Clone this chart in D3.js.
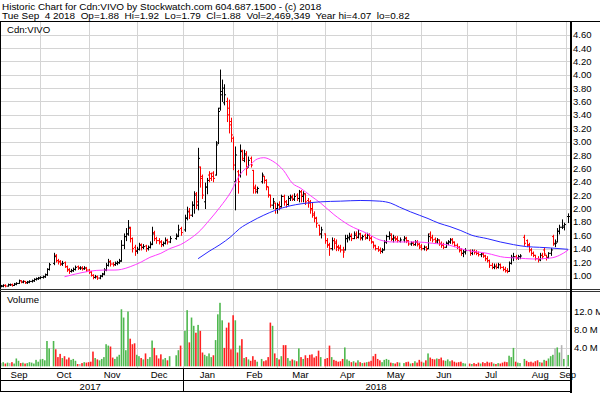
<!DOCTYPE html>
<html><head><meta charset="utf-8">
<script src="https://cdn.jsdelivr.net/npm/d3@7"></script>
<style>
html,body{margin:0;padding:0;background:#fff;}
svg{display:block;font-family:"Liberation Sans",Arial,sans-serif;}
</style></head><body>
<svg id="chart" width="600" height="393"></svg>
<script>
// ---------------- DATA ----------------
const headerLines = [
  "Historic Chart for Cdn:VIVO by Stockwatch.com 604.687.1500 - (c) 2018",
  "Tue Sep  4 2018  Op=1.88  Hi=1.92  Lo=1.79  Cl=1.88  Vol=2,469,349  Year hi=4.07  lo=0.82"
];
const symbolLabel = "Cdn:VIVO";
const volumeLabel = "Volume";
const firstDay = "2017-09-05";
const lastDay = "2018-09-04";
const holidays = ["2017-10-09","2017-12-25","2017-12-26","2018-01-01","2018-02-19",
  "2018-03-30","2018-05-21","2018-07-02","2018-08-06","2018-09-03"];

const opens = [
  .85,.84,.84,.85,.84,.86,.86,.85,.87,.88,.92,.90,.91,.89,.90,.91,.92,.94,.95,
  .96,.97,.98,1.01,1.09,1.18,1.30,1.22,1.21,1.17,1.19,1.13,1.09,1.06,1.07,1.09,1.13,1.11,1.11,1.10,1.11,
  1.08,1.05,1.00,.97,.98,.96,.99,1.02,1.08,1.15,1.21,1.17,1.16,1.18,1.19,1.22,1.45,1.58,1.62,1.70,1.55,1.42,
  1.36,1.39,1.46,1.42,1.44,1.40,1.42,1.47,1.64,1.55,1.52,1.50,1.46,1.48,1.53,1.50,1.55,1.60,1.70,
  1.68,1.86,1.96,1.90,2.05,2.22,2.05,2.62,2.48,2.10,2.32,2.50,2.52,2.53,2.50,2.98,3.50,3.70,3.58,3.60,3.50,3.30,
  3.05,2.40,2.55,2.50,2.87,2.72,2.82,2.62,2.75,2.57,2.32,2.25,2.40,2.48,2.42,2.32,2.20,2.05,2.08,
  2.00,2.06,2.03,2.18,2.10,2.06,2.15,2.18,2.14,2.20,2.15,2.25,2.18,2.22,2.12,2.10,2.00,1.92,1.86,1.75,1.62,
  1.62,1.52,1.46,1.40,1.52,1.50,1.43,1.42,1.38,1.38,1.55,1.56,1.60,1.55,1.62,1.57,1.62,1.56,1.60,1.56,1.60,
  1.56,1.50,1.45,1.40,1.38,1.36,1.38,1.50,1.58,1.62,1.54,1.57,1.55,1.51,1.53,1.56,1.52,1.47,1.49,1.46,1.50,1.47,
  1.44,1.40,1.42,1.40,1.62,1.57,1.54,1.50,1.53,1.48,1.46,1.42,1.48,1.50,1.54,1.50,1.45,1.42,1.38,1.33,1.35,
  1.37,1.33,1.36,1.35,1.33,1.31,1.32,1.29,1.25,1.22,1.15,1.12,1.14,1.12,1.16,1.12,1.09,1.07,1.06,1.18,1.27,
  1.28,1.26,1.28,1.57,1.52,1.46,1.38,1.33,1.30,1.25,1.23,1.30,1.38,1.30,1.27,1.33,1.58,1.47,1.50,1.66,1.72,1.74,
  1.88
];
const highs = [
  .86,.85,.86,.86,.87,.87,.87,.88,.89,.93,.92,.92,.91,.91,.92,.93,.95,.96,.97,
  .98,.99,1.02,1.10,1.18,1.33,1.31,1.24,1.22,1.21,1.20,1.14,1.10,1.09,1.11,1.14,1.14,1.13,1.13,1.13,1.12,
  1.09,1.06,1.01,1.00,.99,1.00,1.03,1.10,1.18,1.24,1.22,1.19,1.20,1.21,1.24,1.52,1.62,1.70,1.82,1.72,1.56,1.45,
  1.42,1.48,1.47,1.46,1.45,1.44,1.50,1.72,1.66,1.57,1.55,1.52,1.50,1.56,1.54,1.58,1.62,1.75,1.72,
  1.90,2.02,2.00,2.10,2.25,2.24,2.90,2.62,2.50,2.38,2.45,2.55,2.53,2.55,3.00,3.50,4.07,3.92,3.85,3.65,3.62,3.35,
  3.07,2.92,2.57,2.95,2.87,2.87,2.85,2.77,2.77,2.57,2.35,2.32,2.53,2.48,2.43,2.32,2.20,2.15,2.08,
  2.08,2.10,2.20,2.20,2.12,2.18,2.20,2.20,2.22,2.22,2.27,2.27,2.25,2.22,2.15,2.12,2.08,1.95,1.87,1.75,1.72,
  1.62,1.55,1.48,1.56,1.55,1.53,1.45,1.45,1.42,1.60,1.60,1.63,1.62,1.65,1.65,1.68,1.63,1.60,1.62,1.63,1.62,
  1.58,1.50,1.45,1.43,1.41,1.40,1.52,1.60,1.65,1.62,1.60,1.58,1.58,1.56,1.58,1.57,1.52,1.50,1.50,1.52,1.52,1.48,
  1.46,1.44,1.43,1.62,1.65,1.60,1.56,1.55,1.53,1.50,1.48,1.50,1.52,1.55,1.55,1.50,1.47,1.43,1.40,1.38,1.40,
  1.38,1.38,1.38,1.37,1.35,1.33,1.33,1.30,1.28,1.23,1.18,1.17,1.17,1.18,1.17,1.13,1.12,1.10,1.20,1.30,1.33,
  1.30,1.30,1.31,1.60,1.53,1.48,1.40,1.35,1.30,1.28,1.33,1.33,1.41,1.30,1.34,1.40,1.60,1.53,1.70,1.75,1.83,1.78,
  1.92
];
const lows = [
  .82,.83,.83,.83,.84,.85,.84,.85,.86,.88,.89,.89,.88,.88,.89,.90,.91,.93,.94,
  .95,.96,.97,1.00,1.08,1.16,1.20,1.17,1.15,1.15,1.12,1.06,1.03,1.05,1.06,1.08,1.09,1.09,1.08,1.09,1.06,
  1.03,.99,.95,.96,.94,.95,.98,1.01,1.07,1.14,1.14,1.14,1.15,1.16,1.18,1.21,1.40,1.52,1.60,1.50,1.35,1.30,
  1.33,1.38,1.38,1.40,1.36,1.38,1.41,1.46,1.52,1.48,1.47,1.43,1.44,1.47,1.47,1.49,1.54,1.58,1.60,
  1.66,1.83,1.85,1.88,1.93,2.00,1.98,2.32,2.15,2.00,2.22,2.40,2.42,2.40,2.50,2.97,3.47,3.60,3.55,3.30,3.13,3.00,
  2.58,1.98,2.23,2.47,2.72,2.70,2.50,2.62,2.62,2.23,2.23,2.23,2.38,2.38,2.28,2.17,2.02,2.00,1.93,
  1.93,1.98,2.02,2.05,2.02,2.05,2.12,2.12,2.12,2.12,2.10,2.10,2.10,2.06,2.02,1.93,1.87,1.80,1.72,1.60,1.56,
  1.48,1.42,1.30,1.38,1.40,1.37,1.37,1.35,1.27,1.38,1.50,1.53,1.52,1.55,1.55,1.56,1.53,1.53,1.54,1.55,1.52,
  1.48,1.41,1.38,1.36,1.33,1.34,1.38,1.48,1.54,1.52,1.50,1.52,1.50,1.50,1.50,1.49,1.45,1.45,1.45,1.45,1.44,1.40,
  1.38,1.38,1.37,1.40,1.52,1.50,1.48,1.48,1.45,1.42,1.40,1.42,1.46,1.48,1.47,1.43,1.40,1.35,1.30,1.28,1.32,
  1.30,1.31,1.32,1.31,1.29,1.28,1.27,1.22,1.20,1.12,1.10,1.10,1.10,1.11,1.10,1.07,1.05,1.04,1.06,1.17,1.22,
  1.24,1.24,1.25,1.45,1.43,1.35,1.30,1.28,1.23,1.20,1.22,1.25,1.30,1.23,1.26,1.30,1.45,1.43,1.50,1.62,1.70,1.68,
  1.79
];
const closes = [
  .84,.84,.85,.84,.86,.86,.85,.87,.88,.92,.90,.91,.89,.90,.91,.92,.94,.95,.96,
  .97,.98,1.01,1.09,1.16,1.28,1.22,1.20,1.17,1.18,1.13,1.08,1.06,1.07,1.09,1.12,1.11,1.11,1.10,1.11,1.08,
  1.05,1.00,.97,.98,.96,.99,1.02,1.08,1.15,1.20,1.17,1.16,1.18,1.19,1.21,1.45,1.58,1.62,1.72,1.55,1.40,1.37,
  1.39,1.45,1.42,1.43,1.40,1.42,1.46,1.62,1.55,1.52,1.50,1.46,1.48,1.52,1.50,1.55,1.58,1.68,1.64,
  1.85,1.95,1.90,2.05,2.20,2.10,2.75,2.45,2.20,2.32,2.42,2.45,2.48,2.45,2.95,3.45,3.75,3.80,3.70,3.40,3.25,3.10,
  2.65,2.80,2.40,2.85,2.75,2.80,2.60,2.72,2.65,2.30,2.28,2.30,2.50,2.42,2.33,2.20,2.05,2.10,2.00,
  2.05,2.02,2.18,2.10,2.06,2.15,2.16,2.14,2.18,2.15,2.25,2.20,2.22,2.10,2.08,1.98,1.90,1.85,1.78,1.62,1.68,
  1.52,1.45,1.40,1.52,1.48,1.42,1.40,1.38,1.35,1.55,1.57,1.58,1.55,1.60,1.57,1.62,1.56,1.58,1.56,1.60,1.55,
  1.50,1.44,1.40,1.38,1.36,1.38,1.50,1.58,1.60,1.55,1.56,1.54,1.52,1.53,1.55,1.51,1.47,1.48,1.46,1.50,1.46,1.42,
  1.40,1.42,1.39,1.58,1.56,1.53,1.52,1.53,1.47,1.45,1.42,1.48,1.50,1.53,1.49,1.45,1.42,1.37,1.33,1.35,1.37,
  1.33,1.36,1.35,1.33,1.31,1.32,1.29,1.25,1.22,1.15,1.12,1.13,1.12,1.16,1.12,1.09,1.07,1.06,1.18,1.27,1.28,
  1.26,1.28,1.29,1.48,1.45,1.38,1.33,1.30,1.25,1.24,1.30,1.28,1.32,1.27,1.33,1.38,1.48,1.48,1.66,1.72,1.72,1.76,
  1.88
];
// volume in millions of shares
const volumes = [
  0.8,0.7,0.9,0.6,0.8,0.7,0.9,0.6,1.7,1.2,0.7,0.8,0.6,0.7,0.9,0.8,0.6,1.4,1.0,
  1.5,1.6,1.3,5.5,3.9,5.5,3.7,2.0,2.7,1.8,2.2,1.5,1.9,1.4,1.6,1.2,0.5,0.5,0.7,0.9,0.8,
  0.9,1.0,3.2,1.8,1.5,1.3,1.6,2.0,4.8,4.5,4.3,1.9,1.6,2.1,2.5,12.4,10.6,3.5,11.9,6.0,4.8,5.0,
  2.5,2.2,1.8,1.5,2.8,1.6,2.0,5.6,4.0,2.4,1.7,2.6,1.5,1.8,1.3,2.2,2.4,3.5,4.5,
  7.7,12.2,5.2,10.6,8.8,7.3,9.0,7.7,3.0,2.5,2.2,2.8,2.0,2.4,5.7,11.3,13.8,10.0,4.0,8.4,9.5,3.7,
  11.1,10.0,3.0,4.5,5.9,1.8,2.0,1.5,1.2,2.2,1.4,1.0,1.6,1.1,1.3,2.0,9.5,8.8,2.8,
  1.8,1.5,2.2,4.6,4.6,1.8,1.2,1.5,1.3,1.1,3.9,2.0,1.6,2.4,1.8,2.5,2.6,1.9,2.2,3.4,2.0,
  1.6,1.8,4.5,2.0,1.4,1.2,1.0,1.1,1.6,4.1,1.5,1.2,0.9,1.1,0.8,1.3,0.9,0.7,0.8,0.9,1.0,
  1.2,2.2,2.7,1.6,1.3,0.9,1.4,1.6,1.4,0.8,0.7,0.6,0.9,0.8,0.7,0.9,1.0,0.6,0.7,1.1,0.8,1.4,
  1.0,0.8,1.3,2.8,1.9,1.6,1.5,1.7,1.6,1.9,1.3,1.2,1.5,1.1,1.3,1.0,0.8,0.9,1.0,0.7,0.6,
  0.6,0.5,0.7,0.5,0.8,0.6,0.9,0.7,1.0,0.8,0.9,0.6,0.5,0.7,0.6,0.8,1.0,0.9,2.3,2.0,4.0,
  1.0,0.8,0.7,1.6,1.2,0.9,1.0,0.8,1.1,1.3,0.9,0.8,1.4,1.2,1.7,2.2,2.5,3.9,4.1,3.0,4.6,1.6,
  2.469349
];
// moving averages (date, price)
const maShort = [["2017-10-17",0.98],["2017-10-24",1.02],["2017-11-01",1.06],["2017-11-10",1.08],
  ["2017-11-17",1.08],["2017-11-22",1.09],["2017-11-28",1.13],["2017-12-05",1.20],["2017-12-11",1.27],
  ["2017-12-18",1.33],["2017-12-22",1.40],["2017-12-29",1.46],["2018-01-04",1.54],["2018-01-10",1.64],
  ["2018-01-17",1.82],["2018-01-24",2.02],["2018-01-31",2.25],["2018-02-06",2.50],["2018-02-13",2.66],
  ["2018-02-16",2.74],["2018-02-21",2.76],["2018-02-27",2.71],["2018-03-06",2.57],["2018-03-12",2.38],
  ["2018-03-16",2.30],["2018-03-22",2.20],["2018-03-29",2.08],["2018-04-06",1.91],["2018-04-17",1.75],
  ["2018-04-27",1.63],["2018-05-07",1.53],["2018-05-15",1.50],["2018-05-30",1.50],["2018-06-08",1.48],
  ["2018-06-20",1.45],["2018-06-29",1.38],["2018-07-13",1.33],["2018-07-25",1.27],["2018-08-02",1.26],
  ["2018-08-13",1.245],["2018-08-23",1.26],["2018-08-29",1.30],["2018-09-04",1.38]];
const maLong = [["2018-01-10",1.25],["2018-01-17",1.36],["2018-01-24",1.46],["2018-01-31",1.58],
  ["2018-02-06",1.70],["2018-02-13",1.80],["2018-02-21",1.90],["2018-02-28",1.97],["2018-03-09",2.04],
  ["2018-03-16",2.07],["2018-03-29",2.10],["2018-04-11",2.11],["2018-04-24",2.12],["2018-05-07",2.11],
  ["2018-05-14",2.08],["2018-05-18",2.02],["2018-05-25",1.95],["2018-06-06",1.85],["2018-06-13",1.78],
  ["2018-06-20",1.73],["2018-06-27",1.67],["2018-07-04",1.60],["2018-07-13",1.55],["2018-07-23",1.50],
  ["2018-07-31",1.46],["2018-08-08",1.43],["2018-08-16",1.42],["2018-08-23",1.41],["2018-09-04",1.39]];
const priceTicks = [1.00,1.20,1.40,1.60,1.80,2.00,2.20,2.40,2.60,2.80,3.00,3.20,3.40,3.60,3.80,4.00,4.20,4.40,4.60];
const volumeTicks = [4,8,12];
const monthLabels = ["Sep","Oct","Nov","Dec","Jan","Feb","Mar","Apr","May","Jun","Jul","Aug","Sep"];
const yearLabels = ["2017","2018"];

// ---------------- BUILD ----------------
const parseD = d3.utcParse("%Y-%m-%d"), fmtD = d3.utcFormat("%Y-%m-%d");
const holidaySet = new Set(holidays);
const slotOf = new Map();
const tradingDays = [];
const months = [];
let wi = 0, prevMonth = -1;
for (let d = parseD(firstDay); d <= parseD(lastDay); d = d3.utcDay.offset(d, 1)) {
  const wd = d.getUTCDay();
  if (wd === 0 || wd === 6) continue;
  const ds = fmtD(d);
  if (d.getUTCMonth() !== prevMonth) {
    months.push({first: wi, last: wi, year: d.getUTCFullYear()});
    prevMonth = d.getUTCMonth();
  }
  months[months.length - 1].last = wi;
  slotOf.set(ds, wi);
  if (!holidaySet.has(ds)) tradingDays.push({date: d, wi});
  wi++;
}
const bars = tradingDays.map((t, k) => ({
  wi: t.wi, o: opens[k], h: highs[k], l: lows[k], c: closes[k], v: volumes[k],
  pc: k > 0 ? closes[k - 1] : closes[k]
}));

const svg = d3.select("#chart");
const x = d3.scaleLinear().domain([0, 260]).range([-1.2, 568.2]);
const y = d3.scaleLinear().domain([1.0, 4.6]).range([275.4, 34.6]);
const yv = d3.scaleLinear().domain([0, 16]).range([366.3, 292.7]);
const px = v => Math.round(v) + 0.5;

const defs = svg.append("defs");
defs.append("clipPath").attr("id", "cp").append("rect").attr("x", 1).attr("y", 22).attr("width", 569).attr("height", 267);
defs.append("clipPath").attr("id", "cv").append("rect").attr("x", 1).attr("y", 292).attr("width", 569).attr("height", 76);

// gridlines
const grid = svg.append("g").attr("stroke", "#d4d4d4").attr("stroke-width", 1).attr("shape-rendering", "crispEdges");
grid.selectAll(".hp").data(priceTicks).join("line").attr("class", "hp")
  .attr("x1", 1).attr("x2", 570).attr("y1", d => px(y(d))).attr("y2", d => px(y(d)));
grid.selectAll(".hv").data(volumeTicks).join("line").attr("class", "hv")
  .attr("x1", 1).attr("x2", 570).attr("y1", d => px(yv(d))).attr("y2", d => px(yv(d)));
const bounds = months.slice(1);
grid.selectAll(".vp").data(bounds).join("line").attr("class", "vp")
  .attr("x1", d => px(x(d.first))).attr("x2", d => px(x(d.first))).attr("y1", 22).attr("y2", 289);
grid.selectAll(".vv").data(bounds).join("line").attr("class", "vv")
  .attr("x1", d => px(x(d.first))).attr("x2", d => px(x(d.first))).attr("y1", 292).attr("y2", 368);

// volume bars
const volColor = b => b.c > b.pc ? "#4fb84f" : (b.c < b.pc ? "#ff2020" : "#b4b4b4");
svg.append("g").attr("clip-path", "url(#cv)").selectAll("rect").data(bars).join("rect")
  .attr("x", b => x(b.wi) - 0.8).attr("width", 1.6)
  .attr("y", b => yv(b.v)).attr("height", b => yv(0) - yv(b.v))
  .attr("fill", volColor);

// price bars
const pg = svg.append("g").attr("clip-path", "url(#cp)");
pg.selectAll("path").data(bars).join("path")
  .attr("d", b => {
    const xx = px(x(b.wi));
    return `M${xx - 1.5},${y(b.o)}H${xx}M${xx},${y(b.h) - 0.5}V${y(b.l) + 0.5}M${xx},${y(b.c)}H${xx + 1.5}`;
  })
  .attr("fill", "none").attr("stroke-width", 1)
  .attr("stroke", b => b.c >= b.o ? "#000" : "#ff0000");

// moving averages
const maLine = d3.line().x(d => x(slotOf.get(d[0]))).y(d => y(d[1])).curve(d3.curveMonotoneX);
pg.append("path").datum(maShort).attr("d", maLine).attr("fill", "none").attr("stroke", "#ff3cff").attr("stroke-width", 1);
pg.append("path").datum(maLong).attr("d", maLine).attr("fill", "none").attr("stroke", "#2828ff").attr("stroke-width", 1);

// frame
const frame = svg.append("g").attr("stroke", "#000").attr("fill", "none").attr("shape-rendering", "crispEdges");
frame.append("path").attr("d", "M0,21.5H600");
frame.append("path").attr("d", "M0.5,21.5V391.5");
frame.append("path").attr("d", "M0,289.5H600").attr("stroke", "#333");
frame.append("path").attr("d", "M0,291.5H600").attr("stroke", "#333");
frame.append("path").attr("d", "M0,368.5H571");
frame.append("path").attr("d", "M0,380.5H571");
frame.append("path").attr("d", "M0,391.5H571");
frame.append("path").attr("d", `M${px(x(months[4].first))},369V391.5`);
svg.append("rect").attr("x", 570).attr("y", 21).attr("width", 2).attr("height", 372).attr("fill", "#000");

// axes
const styleAxis = g => {
  g.select(".domain").remove();
  g.attr("font-family", null).attr("font-size", null);
  g.selectAll("text").attr("font-size", "9.5px").attr("fill", "#000");
};
svg.append("g").attr("transform", "translate(573,0)")
  .call(d3.axisRight(y).tickValues(priceTicks).tickFormat(d3.format(".2f")).tickSize(0).tickPadding(0))
  .call(styleAxis);
svg.append("g").attr("transform", "translate(574,0)")
  .call(d3.axisRight(yv).tickValues(volumeTicks).tickFormat(d => d3.format(".1f")(d) + " M").tickSize(0).tickPadding(0))
  .call(styleAxis);
const monthCenters = months.map((m, i) => i === 0 ? (0 + m.last) / 2 : (m.first + m.last) / 2);
svg.append("g").attr("transform", "translate(0,369)")
  .call(d3.axisBottom(x).tickValues(monthCenters).tickFormat((d, i) => monthLabels[i]).tickSize(0).tickPadding(2))
  .call(styleAxis);
const yearCenters = yearLabels.map(yr => {
  const ms = months.filter(m => String(m.year) === yr);
  return (ms[0].first + ms[ms.length - 1].last) / 2;
});
svg.append("g").attr("transform", "translate(0,381)")
  .call(d3.axisBottom(x).tickValues(yearCenters).tickFormat((d, i) => yearLabels[i]).tickSize(0).tickPadding(2))
  .call(styleAxis);

// texts
svg.selectAll(".hdr").data(headerLines).join("text").attr("class", "hdr")
  .attr("x", 2).attr("y", (d, i) => 9.5 + i * 9.7).attr("font-size", "9.95px")
  .style("white-space", "pre").text(d => d);
svg.append("text").attr("x", 7).attr("y", 33).attr("font-size", "9.6px").text(symbolLabel);
svg.append("text").attr("x", 7).attr("y", 303).attr("font-size", "9.6px").text(volumeLabel);
</script>
</body></html>
